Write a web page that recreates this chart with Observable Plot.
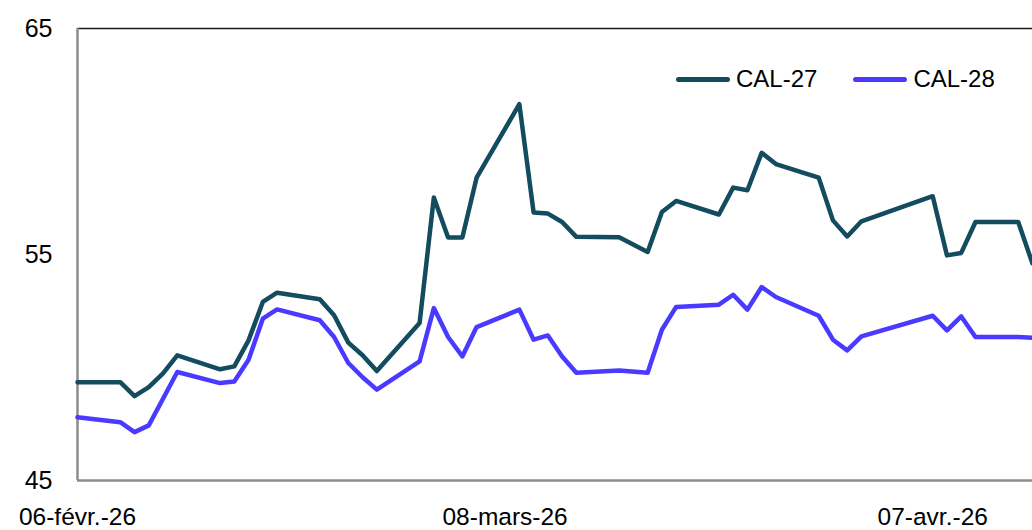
<!DOCTYPE html>
<html>
<head>
<meta charset="utf-8">
<script src="https://cdn.jsdelivr.net/npm/d3@7"></script>
<script src="https://cdn.jsdelivr.net/npm/@observablehq/plot@0.6"></script>
<style>
  body { margin: 0; background: #fff; font-family: "Liberation Sans", Arial, sans-serif; }
  #wrap { position: relative; width: 1032px; height: 530px; overflow: hidden; }
  #legend { position: absolute; left: 676px; top: 64px; display: flex; align-items: center; font-size: 24px; color: #000; line-height: 30px; }
  .item { display: flex; align-items: center; margin-right: 36px; }
  .sw { width: 54px; height: 5px; border-radius: 3px; margin-right: 6px; }
</style>
</head>
<body>
<div id="wrap"><div id="legend"></div></div>
<script>
// ---- data ----
const dates = [
  "2026-02-06","2026-02-09","2026-02-10","2026-02-11","2026-02-12","2026-02-13",
  "2026-02-16","2026-02-17","2026-02-18","2026-02-19","2026-02-20",
  "2026-02-23","2026-02-24","2026-02-25","2026-02-26","2026-02-27",
  "2026-03-02","2026-03-03","2026-03-04","2026-03-05","2026-03-06",
  "2026-03-09","2026-03-10","2026-03-11","2026-03-12","2026-03-13",
  "2026-03-16","2026-03-18","2026-03-19","2026-03-20",
  "2026-03-23","2026-03-24","2026-03-25","2026-03-26","2026-03-27",
  "2026-03-30","2026-03-31","2026-04-01","2026-04-02",
  "2026-04-07","2026-04-08","2026-04-09","2026-04-10",
  "2026-04-13","2026-04-14"
];
const cal27 = [
  49.35, 49.35, 48.73, 49.13, 49.74, 50.54,
  49.92, 50.05, 51.2, 52.9, 53.31,
  53.02, 52.31, 51.1, 50.54, 49.84,
  51.97, 57.52, 55.75, 55.75, 58.4,
  61.65, 56.86, 56.81, 56.44, 55.78,
  55.76, 55.11, 56.88, 57.37,
  56.77, 57.96, 57.84, 59.5, 59.0,
  58.4, 56.51, 55.8, 56.47,
  57.58, 54.96, 55.07, 56.44,
  56.44, 54.6
];
const cal28 = [
  47.8, 47.58, 47.14, 47.44, 48.62, 49.8,
  49.31, 49.38, 50.34, 52.16, 52.57,
  52.09, 51.35, 50.2, 49.57, 49.02,
  50.27, 52.63, 51.35, 50.49, 51.79,
  52.56, 51.23, 51.42, 50.49, 49.77,
  49.87, 49.77, 51.67, 52.68,
  52.78, 53.22, 52.56, 53.56, 53.12,
  52.29, 51.23, 50.76, 51.38,
  52.29, 51.64, 52.26, 51.35,
  51.35, 51.32
];
const seriesNames = ["CAL-27", "CAL-28"];
const seriesColors = ["#134b5f", "#4a3aff"];
const xDomain = ["2026-02-06", "2026-04-14"];
const yDomain = [45, 65];
const yTicks = [45, 55, 65];
const xTickDates = ["2026-02-06", "2026-03-08", "2026-04-07"];
const xTickLabels = ["06-févr.-26", "08-mars-26", "07-avr.-26"];

// ---- build ----
const parse = d3.utcParse("%Y-%m-%d");
const fmt = d3.utcFormat("%Y-%m-%d");
const labelMap = new Map(xTickDates.map((d, i) => [d, xTickLabels[i]]));
const seriesValues = [cal27, cal28];
const rows = seriesNames.flatMap((s, k) =>
  dates.map((d, i) => ({ date: parse(d), value: seriesValues[k][i], series: s }))
);

const chart = Plot.plot({
  width: 1032,
  height: 530,
  marginLeft: 77,
  marginRight: 0,
  marginTop: 28,
  marginBottom: 50,
  style: { fontFamily: '"Liberation Sans", Arial, sans-serif', fontSize: "24px", color: "#000", background: "#fff", overflow: "visible" },
  x: { type: "utc", domain: xDomain.map(parse) },
  y: { domain: yDomain },
  color: { domain: seriesNames, range: seriesColors },
  marks: [
    Plot.ruleY([yDomain[1]], { stroke: "#1a1a1a", strokeWidth: 1.5 }),
    Plot.ruleY([yDomain[0]], { stroke: "#8c8c8c", strokeWidth: 2.5 }),
    Plot.ruleX([parse(xDomain[0])], { stroke: "#8c8c8c", strokeWidth: 2.5 }),
    Plot.axisY(yTicks, { tickSize: 0, tickPadding: 25, fontSize: 25, label: null }),
    Plot.axisX(xTickDates.map(parse), { tickSize: 0, tickPadding: 27, fontSize: 24.5, label: null, tickFormat: d => labelMap.get(fmt(d)) }),
    Plot.line(rows, { x: "date", y: "value", z: "series", stroke: "series", strokeWidth: 4.5, strokeLinejoin: "round", strokeLinecap: "round" })
  ]
});
document.getElementById("wrap").prepend(chart);

const legend = document.getElementById("legend");
seriesNames.forEach((s, i) => {
  const item = document.createElement("div");
  item.className = "item";
  const sw = document.createElement("div");
  sw.className = "sw";
  sw.style.background = seriesColors[i];
  const t = document.createElement("span");
  t.textContent = s;
  item.append(sw, t);
  legend.append(item);
});
</script>
</body>
</html>
